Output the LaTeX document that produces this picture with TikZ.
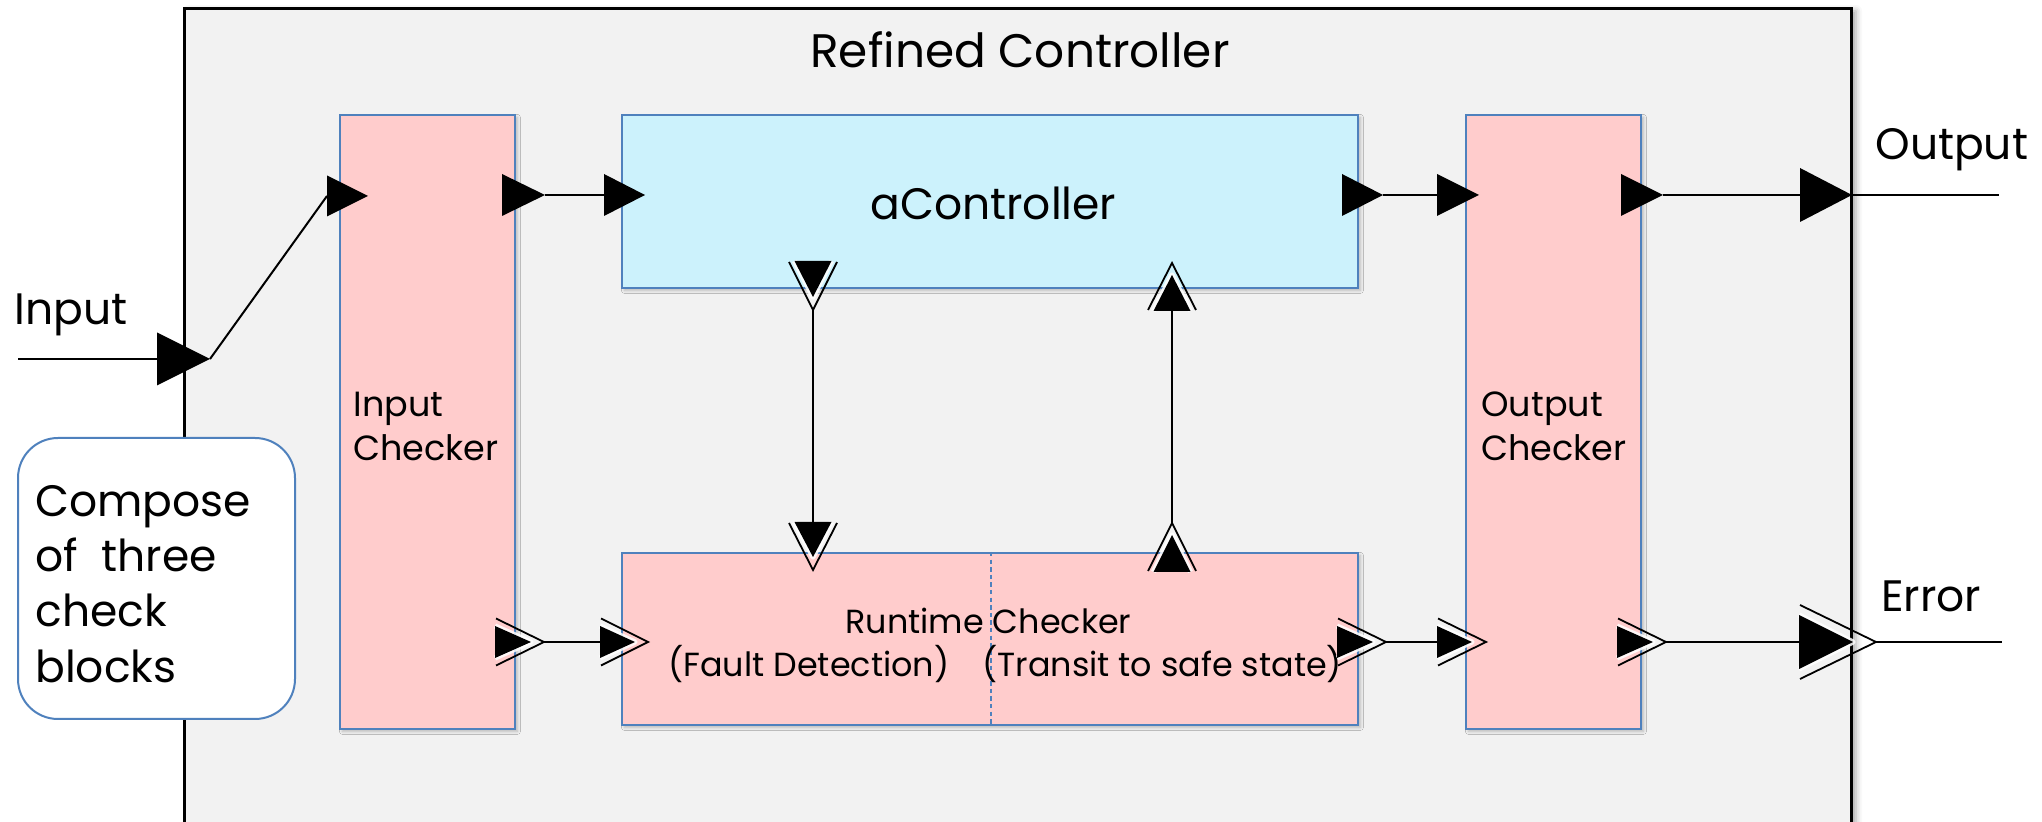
\documentclass[tikz,border=0pt]{standalone}
\usepackage{fontspec}
\setmainfont{Poppins}
\usetikzlibrary{shadows.blur}

\definecolor{panelgrey}{RGB}{242,242,242}
\definecolor{checkpink}{RGB}{255,204,204}
\definecolor{ctrlcyan}{RGB}{204,242,252}
\definecolor{edgeblue}{RGB}{79,129,189}

\tikzset{
  % solid port: base centre at the origin, pointing along +x
  pics/sport/.style args={#1/#2}{code={
    \fill[black] (0,-#2/2) -- (#1,0) -- (0,#2/2) -- cycle;
    \coordinate (-base) at (0,0);
    \coordinate (-tip) at (#1,0);
  }},
  % double port: solid triangle with an open chevron around its tip
  pics/dport/.style args={#1/#2/#3/#4}{code={
    \draw[black,line width=0.9pt] (1,-#4) -- (#1+#3,0) -- (1,#4);
    \draw[white,line width=2.6pt,opacity=.85,line join=round] (0,-#2/2) -- (#1,0) -- (0,#2/2);
    \fill[black] (0,-#2/2) -- (#1,0) -- (0,#2/2) -- cycle;
    \coordinate (-base) at (0,0);
    \coordinate (-tip) at (#1+#3,0);
  }},
  blockbox/.style={draw=edgeblue,line width=1pt,inner sep=0pt,
    blur shadow={shadow xshift=1.2pt,shadow yshift=-1.2pt,shadow blur radius=1.5pt,shadow opacity=25}},
  bigtext/.style={inner sep=0pt,anchor=base west,font=\fontsize{22}{27.5}\selectfont},
  smalltext/.style={inner sep=0pt,anchor=base west,font=\fontsize{17.5}{22}\selectfont},
  runtext/.style={inner sep=0pt,anchor=base west,font=\fontsize{16.7}{21}\selectfont},
  wire/.style={black,line width=1pt},
}

\begin{document}
\begin{tikzpicture}[x=0.5pt,y=-0.5pt]
\useasboundingbox (0,0) rectangle (2042,822);
\clip (0,0) rectangle (2042,822);

% enclosing controller
\node[draw=black,line width=1.5pt,fill=panelgrey,inner sep=0pt,
      minimum width=833.5pt,minimum height=420.5pt,
      blur shadow={shadow xshift=2.5pt,shadow yshift=-1pt,shadow blur radius=3pt,shadow opacity=35}]
  (outer) at (1017.5,429.5) {};
\node[bigtext,anchor=base,font=\fontsize{23.5}{28}\selectfont] (title) at (1020,68) {Refined Controller};

% blocks
\node[blockbox,fill=checkpink,minimum width=87.5pt,minimum height=307pt] (ic) at (427.5,422) {};
\node[blockbox,fill=ctrlcyan,minimum width=368pt,minimum height=86.5pt] (ac) at (990,201.5) {};
\node[blockbox,fill=checkpink,minimum width=368pt,minimum height=86pt] (rt) at (990,639) {};
\node[blockbox,fill=checkpink,minimum width=87.5pt,minimum height=307pt] (oc) at (1553.5,422) {};

% note box
\node[draw=edgeblue,line width=1pt,fill=white,rounded corners=20pt,inner sep=0pt,
      minimum width=138.5pt,minimum height=140.5pt] (note) at (156.5,578.5) {};
\node[bigtext] (n1) at (35,517) {Compose};
\node[bigtext] (n2) at (35,572) {of\ \ three};
\node[bigtext] (n3) at (35,627) {check};
\node[bigtext] (n4) at (35,683) {blocks};

% divider inside the runtime checker
\coordinate (divx) at (991,0);
\draw[edgeblue,line width=0.8pt,dash pattern=on 2.2pt off 1.6pt] (rt.north -| divx) -- (rt.south -| divx);

% labels
\node[bigtext] (aclbl) at (870,220) {aController};
\node[smalltext] (ic1) at (353,417) {Input};
\node[smalltext] (ic2) at (353,461) {Checker};
\node[smalltext] (oc1) at (1481,417) {Output};
\node[smalltext] (oc2) at (1481,461) {Checker};
\node[runtext] (rt1) at (845,634) {Runtime Checker};
\node[runtext] (rt2) at (668,677) {(Fault Detection)};
\node[runtext] (rt3) at (982,677) {(Transit to safe state)};
\node[bigtext] (inlbl) at (14,325) {Input};
\node[bigtext] (outlbl) at (1875,160) {Output};
\node[bigtext] (errlbl) at (1881,612) {Error};

% data ports
\pic (pin)  at (157,359)  {sport=53/53};
\pic (icin) at (327,196)  {sport=41/41};
\pic (icout) at (502,195) {sport=43/42};
\pic (acin) at (604,195)  {sport=41/42};
\pic (acout) at (1342,195) {sport=41/42};
\pic (ocin) at (1437,195) {sport=42/42};
\pic (ocout) at (1621,195) {sport=42/42};
\pic (pout) at (1800,195) {sport=52/54};

% error ports
\pic (icerr) at (495,642)  {dport=36/32/13/23.5};
\pic (rtin)  at (600,642)  {dport=35/32/13/23.5};
\pic (rtout) at (1337,642) {dport=36/32/13/23.5};
\pic (ocein) at (1437,642) {dport=35/32/14/23.5};
\pic (oceout) at (1617,642) {dport=36/32/13/23.5};
\pic (perr) at (1799,642)  {dport=54/54/23/37};

% fault / recovery ports
\pic[rotate=-90] (acdn) at (813,261) {dport=36/37/13/24};
\pic[rotate=-90] (rtdn) at (813,522) {dport=35/37/13/24};
\pic[rotate=90]  (rtup) at (1172,572) {dport=37/37/12/24};
\pic[rotate=90]  (acup) at (1172,311) {dport=36/37/12/24};

% connectors
\coordinate (inEnd) at (18,359);
\coordinate (outEnd) at (1999,195);
\coordinate (errEnd) at (2002,642);
\draw[wire] (inEnd) -- (pin-base);
\draw[wire] (pin-tip) -- (icin-base);
\draw[wire] (icout-tip) -- (acin-base);
\draw[wire] (acout-tip) -- (ocin-base);
\draw[wire] (ocout-tip) -- (pout-base);
\draw[wire] (pout-tip) -- (outEnd);
\draw[wire] (icerr-tip) -- (rtin-base);
\draw[wire] (rtout-tip) -- (ocein-base);
\draw[wire] (oceout-tip) -- (perr-base);
\draw[wire] (perr-tip) -- (errEnd);
\draw[wire] (acdn-tip) -- (rtdn-base);
\draw[wire] (rtup-tip) -- (acup-base);
\end{tikzpicture}
\end{document}
